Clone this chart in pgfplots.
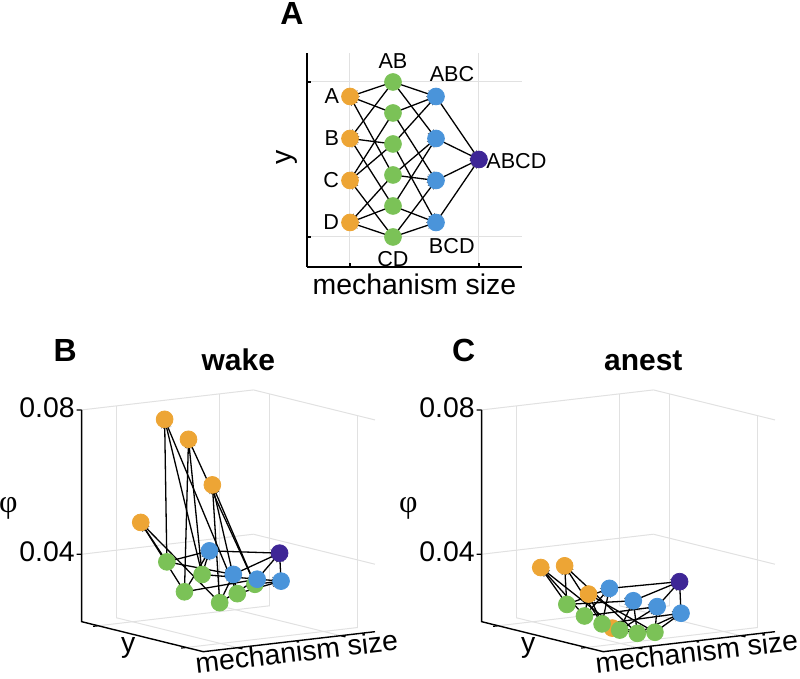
\documentclass[border=0pt]{standalone}
\usepackage{fontspec}
\setmainfont{Liberation Sans}
\newfontfamily\greekserif{Liberation Serif}
\usepackage{pgfplots}
\usepackage{pgfplotstable}
\pgfplotsset{compat=1.18}
\usetikzlibrary{arrows.meta}

\definecolor{nOrange}{HTML}{EDA535}
\definecolor{nGreen}{HTML}{7BC257}
\definecolor{nBlue}{HTML}{4A94DA}
\definecolor{nPurple}{HTML}{3E2696}
\definecolor{gridgray}{HTML}{E1E1E1}

\newcommand\lab{\fontsize{14.2}{17}\selectfont}
\newcommand\nlab{\fontsize{10.8}{13}\selectfont}

% mechanisms: x = size, y = position, zB = phi (wake), zC = phi (anest)
\pgfplotstableread{
name x y zB zC c
A 1 170.5 0.0494 0.0369 o
B 1 128.5 0.0796 0.0390 o
C 1 86.5 0.0757 0.0328 o
D 1 44.5 0.0647 0.0250 o
AB 2 185 0.0368 0.0250 g
AC 2 154 0.0297 0.0230 g
BC 2 123 0.0357 0.0220 g
AD 2 92 0.0291 0.0215 g
BD 2 61 0.0328 0.0218 g
CD 2 30 0.0366 0.0233 g
ABC 3 170.5 0.0393 0.0289 b
ABD 3 128.5 0.0344 0.0271 b
ACD 3 86.5 0.0347 0.0271 b
BCD 3 44.5 0.0358 0.0269 b
ABCD 4 107.5 0.0400 0.0321 p
}\nodetab

% edges: start (x y zB zC) -> end (x2 y2 zB2 zC2)
\pgfplotstableread{
x y zB zC x2 y2 zB2 zC2
2 185 0.0368 0.0250 1 170.5 0.0494 0.0369
2 185 0.0368 0.0250 1 128.5 0.0796 0.0390
2 154 0.0297 0.0230 1 170.5 0.0494 0.0369
2 154 0.0297 0.0230 1 86.5 0.0757 0.0328
2 123 0.0357 0.0220 1 128.5 0.0796 0.0390
2 123 0.0357 0.0220 1 86.5 0.0757 0.0328
2 92 0.0291 0.0215 1 170.5 0.0494 0.0369
2 92 0.0291 0.0215 1 44.5 0.0647 0.0250
2 61 0.0328 0.0218 1 128.5 0.0796 0.0390
2 61 0.0328 0.0218 1 44.5 0.0647 0.0250
2 30 0.0366 0.0233 1 86.5 0.0757 0.0328
2 30 0.0366 0.0233 1 44.5 0.0647 0.0250
2 185 0.0368 0.0250 3 170.5 0.0393 0.0289
2 185 0.0368 0.0250 3 128.5 0.0344 0.0271
2 154 0.0297 0.0230 3 170.5 0.0393 0.0289
2 154 0.0297 0.0230 3 86.5 0.0347 0.0271
2 123 0.0357 0.0220 3 170.5 0.0393 0.0289
2 123 0.0357 0.0220 3 44.5 0.0358 0.0269
2 92 0.0291 0.0215 3 128.5 0.0344 0.0271
2 92 0.0291 0.0215 3 86.5 0.0347 0.0271
2 61 0.0328 0.0218 3 128.5 0.0344 0.0271
2 61 0.0328 0.0218 3 44.5 0.0358 0.0269
2 30 0.0366 0.0233 3 86.5 0.0347 0.0271
2 30 0.0366 0.0233 3 44.5 0.0358 0.0269
3 170.5 0.0393 0.0289 4 107.5 0.0400 0.0321
3 128.5 0.0344 0.0271 4 107.5 0.0400 0.0321
3 86.5 0.0347 0.0271 4 107.5 0.0400 0.0321
3 44.5 0.0358 0.0269 4 107.5 0.0400 0.0321
}\edgetab

\pgfplotsset{
  mechnodes/.style={scatter, only marks, mark size=4.2pt,
    scatter src=explicit symbolic,
    scatter/classes={
      o={mark=*,draw=nOrange,fill=nOrange},
      g={mark=*,draw=nGreen,fill=nGreen},
      b={mark=*,draw=nBlue,fill=nBlue},
      p={mark=*,draw=nPurple,fill=nPurple}}},
  mechedges/.style={black, line width=0.65pt, -{Stealth[length=4.5pt,width=3.4pt]}},
  phi3d/.style={
    x={(17.17pt,2pt)}, y={(-0.2841pt,0.0701pt)}, z={(0pt,1803.75pt)},
    xmin=0, xmax=5, ymin=0, ymax=214, zmin=0.0213, zmax=0.08,
    axis line style={draw=none},
    xtick={1,4}, ytick={30,185}, ztick={0.04,0.08},
    xticklabels={}, yticklabels={}, zticklabels={0.04,0.08},
    scaled z ticks=false,
    tick style={draw=none},
    tick label style={font=\lab},
    grid=major, grid style={gridgray, line width=0.5pt},
    clip=false,
    every axis x label/.style={at={(rel axis cs:0.5,0,0)}, anchor=center, inner sep=0pt,
      xshift=3.75pt, yshift=-5pt, rotate=6.6, font=\lab},
    every axis y label/.style={at={(rel axis cs:0,0.5,0)}, anchor=center,
      xshift=-7.1pt, yshift=-5.8pt, font=\lab},
    every axis z label/.style={at={(rel axis cs:0,1,0.5)}, anchor=center,
      xshift=-36.7pt, yshift=3.9pt, font=\fontsize{16}{18}\selectfont},
    xlabel={mechanism size}, ylabel={y}, zlabel={\greekserif φ},
    title style={font=\bfseries\fontsize{15}{18}\selectfont, anchor=base},
  },
}

% the three axis lines of a 3D panel and their tick marks
\newcommand\frameaxes{%
  \draw[line width=0.7pt] (axis cs:0,214,0.08) -- (axis cs:0,214,0.0213)
    -- (axis cs:0,0,0.0213) -- (axis cs:5,0,0.0213);
  \draw[line width=0.6pt] (axis cs:0,214,0.08) -- ++(-2.5pt,0)
    (axis cs:0,214,0.04) -- ++(-2.5pt,0)
    (axis cs:0,30,0.0213) -- (axis cs:-0.15,30,0.0213)
    (axis cs:0,185,0.0213) -- (axis cs:-0.15,185,0.0213)
    (axis cs:1,0,0.0213) -- (axis cs:1,-8.5,0.0213)
    (axis cs:4,0,0.0213) -- (axis cs:4,-8.5,0.0213);
}

\begin{document}
\begin{tikzpicture}
\useasboundingbox (0,0) rectangle (400pt,339.5pt);

% panel A: the lattice of mechanisms
\begin{axis}[
  at={(153.5pt,206pt)}, anchor=south west,
  x=21.5pt, y=0.5pt, xmin=0, xmax=5, ymin=0, ymax=214,
  axis lines=left, axis line style={-, line width=0.65pt},
  every outer x axis line/.append style={-},
  every outer y axis line/.append style={-},
  xtick={1,4}, ytick={30,185}, xticklabels={}, yticklabels={},
  tick align=inside, major tick length=2pt,
  tick style={black, line width=0.6pt},
  grid=major, grid style={gridgray, line width=0.5pt},
  clip=false,
  every axis x label/.style={at={(axis description cs:0.5,-0.1308)}, anchor=base, font=\lab},
  every axis y label/.style={at={(axis description cs:-0.0744,0.514)}, anchor=base, rotate=90, font=\lab},
  xlabel={mechanism size}, ylabel={y},
]
\addplot[mechnodes] table[x=x, y=y, meta=c] {\nodetab};
\addplot[mechedges, quiver={u=\thisrow{x2}-\thisrow{x}, v=\thisrow{y2}-\thisrow{y}}]
  table[x=x, y=y] {\edgetab};
\begin{scope}[font=\nlab, inner sep=0pt]
\node[anchor=east, xshift=-5.3pt] at (axis cs:1,170.5) {A};
\node[anchor=east, xshift=-5.3pt] at (axis cs:1,128.5) {B};
\node[anchor=east, xshift=-5.3pt] at (axis cs:1,86.5) {C};
\node[anchor=east, xshift=-5.3pt] at (axis cs:1,44.5) {D};
\node[anchor=south, yshift=6.7pt] at (axis cs:2,185) {AB};
\node[anchor=north, yshift=-7pt] at (axis cs:2,30) {CD};
\node[anchor=south west, xshift=-3.3pt, yshift=7.2pt] at (axis cs:3,170.5) {ABC};
\node[anchor=north west, xshift=-3.7pt, yshift=-7.8pt] at (axis cs:3,44.5) {BCD};
\node[anchor=west, xshift=3.5pt, yshift=-0.8pt] at (axis cs:4,107.5) {ABCD};
\end{scope}
\end{axis}

% panel B: wake
\begin{axis}[phi3d, at={(40.85pt,13.65pt)}, anchor=south west,
  title={wake}, title style={at={(axis description cs:0.534,1.028)}}]
\addplot3[mechnodes] table[x=x, y=y, z=zB, meta=c] {\nodetab};
\addplot3[mechedges, quiver={u=\thisrow{x2}-\thisrow{x}, v=\thisrow{y2}-\thisrow{y},
  w=\thisrow{zB2}-\thisrow{zB}}] table[x=x, y=y, z=zB] {\edgetab};
\frameaxes
\end{axis}

% panel C: anesthesia
\begin{axis}[phi3d, at={(240.85pt,13.65pt)}, anchor=south west,
  title={anest}, title style={at={(axis description cs:0.551,1.028)}}]
\addplot3[mechnodes] table[x=x, y=y, z=zC, meta=c] {\nodetab};
\addplot3[mechedges, quiver={u=\thisrow{x2}-\thisrow{x}, v=\thisrow{y2}-\thisrow{y},
  w=\thisrow{zC2}-\thisrow{zC}}] table[x=x, y=y, z=zC] {\edgetab};
\frameaxes
\end{axis}

\begin{scope}[font=\bfseries\fontsize{16}{18}\selectfont, inner sep=0pt]
\node[anchor=base west] at (140pt,327pt) {A};
\node[anchor=base west] at (26.65pt,158.65pt) {B};
\node[anchor=base west] at (225.85pt,158.65pt) {C};
\end{scope}
\end{tikzpicture}
\end{document}
